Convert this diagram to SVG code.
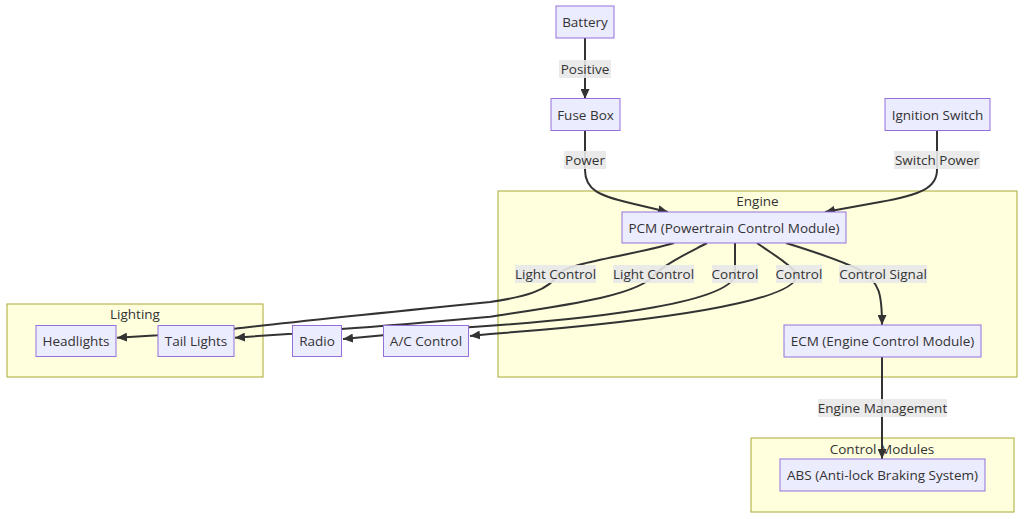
<svg xmlns="http://www.w3.org/2000/svg" width="1024" height="519" viewBox="0 0 1024 519">
<style>
.node rect{fill:#ECECFF;stroke:#9370DB;stroke-width:1}
.cluster rect{fill:#ffffde;stroke:#aaaa33;stroke-width:1}
text{font-family:"Open Sans","Noto Sans",sans-serif;font-size:13.5px;fill:#333;text-anchor:middle;dominant-baseline:central}
.edge{fill:none;stroke:#333;stroke-width:2}
.lbl rect{fill:#e8e8e8;opacity:0.9}
</style>
<defs>
<marker id="arr" viewBox="0 0 10 10" refX="10" refY="5" markerWidth="10" markerHeight="9" markerUnits="userSpaceOnUse" orient="auto" preserveAspectRatio="none">
<path d="M0,0 L10,5 L0,10 z" fill="#333"/>
</marker>
</defs>
<rect width="1024" height="519" fill="#fff"/>
<g id="clusters">
<g id="Engine" class="cluster"><rect x="498" y="191" width="519" height="186"/><text x="757.5" y="201">Engine</text></g>
<g id="Lighting" class="cluster"><rect x="7" y="304" width="256" height="73"/><text x="135" y="314">Lighting</text></g>
<g id="ControlModules" class="cluster"><rect x="751" y="438" width="263" height="74"/><text x="882" y="448.5">Control Modules</text></g>
</g>
<g id="connectors">
<path class="edge" d="M585,38 L585,99" marker-end="url(#arr)"/>
<path class="edge" d="M585,130 L585,170 C585,190 600,196 630,203 L668,212" marker-end="url(#arr)"/>
<path class="edge" d="M937,130 L937,170 C937,188 920,195 880,202 L825,212" marker-end="url(#arr)"/>
<path class="edge" d="M674,243 C630,256 570,262 558,274 C550,290 525,297 490,302 C400,311 290,322 233,329 L158,335.3 L117,337.7" marker-end="url(#arr)"/>
<path class="edge" d="M707,243 C690,252 668,262 655,274 C640,296 560,306 490,316.7 C420,323 370,327 341,329 L292,333.7 L235,337.7" marker-end="url(#arr)"/>
<path class="edge" d="M735,243 L735,274 C733,302 600,318 490,325.7 L469,327.3 L383,335.3 L343,339" marker-end="url(#arr)"/>
<path class="edge" d="M757,243 C772,254 788,262 797,274 C800,302 650,322 490,334 L470,336" marker-end="url(#arr)"/>
<path class="edge" d="M786,243 C815,252 840,260 860,270 C880,282 882,295 882,325" marker-end="url(#arr)"/>
<path class="edge" d="M882,357 L882,459" marker-end="url(#arr)"/>
</g>
<g id="edge-labels">
<g class="lbl"><rect x="559" y="60" width="52" height="18"/><text x="585" y="69">Positive</text></g>
<g class="lbl"><rect x="564" y="151" width="42" height="18"/><text x="585" y="160">Power</text></g>
<g class="lbl"><rect x="894" y="151" width="86" height="18"/><text x="937" y="160">Switch Power</text></g>
<g class="lbl"><rect x="515" y="265" width="81" height="18"/><text x="555.5" y="274">Light Control</text></g>
<g class="lbl"><rect x="613" y="265" width="81" height="18"/><text x="653.5" y="274">Light Control</text></g>
<g class="lbl"><rect x="712" y="265" width="46" height="18"/><text x="735" y="274">Control</text></g>
<g class="lbl"><rect x="776" y="265" width="46" height="18"/><text x="799" y="274">Control</text></g>
<g class="lbl"><rect x="839" y="265" width="88" height="18"/><text x="883" y="274">Control Signal</text></g>
<g class="lbl"><rect x="818" y="399" width="129" height="18"/><text x="882.5" y="408">Engine Management</text></g>
</g>
<g id="Battery" class="node"><rect x="556" y="6" width="58" height="32"/><text x="585" y="22">Battery</text></g>
<g id="FuseBox" class="node"><rect x="551" y="98.5" width="69" height="32"/><text x="585.5" y="114.5">Fuse Box</text></g>
<g id="IgnitionSwitch" class="node"><rect x="885" y="98.5" width="105" height="32"/><text x="937.5" y="114.5">Ignition Switch</text></g>
<g id="PCM" class="node"><rect x="622" y="212" width="224" height="31"/><text x="734" y="227.5">PCM (Powertrain Control Module)</text></g>
<g id="ECM" class="node"><rect x="784" y="325" width="197" height="32"/><text x="882.5" y="341">ECM (Engine Control Module)</text></g>
<g id="Headlights" class="node"><rect x="36" y="325.5" width="80" height="31"/><text x="76" y="341">Headlights</text></g>
<g id="TailLights" class="node"><rect x="158" y="325.5" width="76" height="31"/><text x="196" y="341">Tail Lights</text></g>
<g id="Radio" class="node"><rect x="292.5" y="325.5" width="49" height="31"/><text x="317" y="341">Radio</text></g>
<g id="ACControl" class="node"><rect x="383.5" y="325.5" width="85" height="31"/><text x="426" y="341">A/C Control</text></g>
<g id="ABS" class="node"><rect x="780" y="459" width="205" height="32"/><text x="882.5" y="475">ABS (Anti-lock Braking System)</text></g>
</svg>
